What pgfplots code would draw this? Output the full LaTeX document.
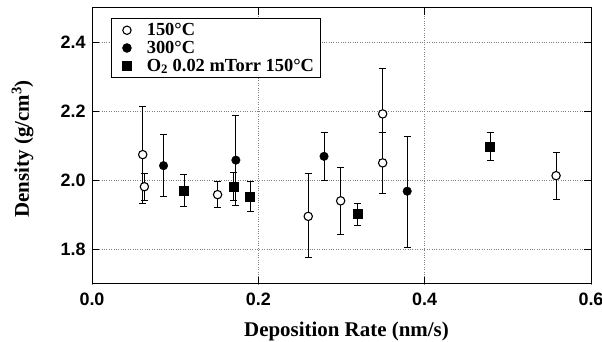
\documentclass[border=0pt]{standalone}
\usepackage{fontspec}
\setmainfont{Liberation Serif}
\newfontfamily\hv{Liberation Sans}
\usepackage{pgfplots}
\pgfplotsset{compat=1.18}
\begin{document}
\begin{tikzpicture}
\begin{axis}[
  scale only axis, width=499bp, height=276bp,
  xmin=0, xmax=0.6, ymin=1.7, ymax=2.5,
  xtick={0,0.2,0.4,0.6}, ytick={1.8,2.0,2.2,2.4},
  tick align=inside, major tick length=7bp,
  tick style={line width=0.8pt, black},
  axis line style={line width=1pt},
  grid=major, grid style={dotted, gray, line width=0.6pt},
  tick label style={font=\hv\bfseries\fontsize{18}{18}\selectfont},
  xticklabel style={yshift=-5bp},
  yticklabel style={xshift=-3bp},
  /pgf/number format/.cd, fixed, fixed zerofill, precision=1, assume math mode=true,
  /pgfplots/.cd,
  xlabel={\bfseries Deposition Rate (nm/s)},
  ylabel={\bfseries Density (g/cm\textsuperscript{3})},
  label style={font=\bfseries\fontsize{21}{21}\selectfont},
  xlabel style={at={(axis description cs:0.51,-0.192)}, anchor=base},
  ylabel style={at={(axis description cs:-0.139,0.49)}, anchor=center},
  legend style={at={(0.039,0.964)}, anchor=north west, draw=black, line width=0.9pt,
    font=\bfseries\fontsize{18.5}{20}\selectfont, row sep=0pt, inner xsep=4bp, inner ysep=3bp},
  legend cell align=left,
  legend image code/.code={%
    \path[draw=none, fill=none] (0,0) rectangle (1.02cm,0);
    \path[#1, only marks, draw=none] plot coordinates {(0.39cm,0cm)};},
  error bars/y dir=both, error bars/y explicit,
  error bars/error bar style={line width=0.8pt, black},
  error bars/error mark options={rotate=90, mark size=3.5pt, line width=0.8pt, black},
]
\addplot[only marks, mark=*, mark size=4.2pt, mark options={fill=white, draw=black, line width=1.1pt}]
  table[x=x, y=y, y error plus=ep, y error minus=em] {
x y ep em
0.061 2.075 0.141 0.141
0.063 1.982 0.040 0.040
0.151 1.959 0.038 0.038
0.260 1.896 0.124 0.119
0.299 1.941 0.096 0.096
0.3495 2.193 0.132 0.132
0.3495 2.051 0.089 0.089
0.558 2.014 0.068 0.068
};
\addlegendentry{150\textdegree C}
\addplot[only marks, mark=*, mark size=4.3pt, mark options={fill=black, draw=black}]
  table[x=x, y=y, y error plus=ep, y error minus=em] {
x y ep em
0.086 2.043 0.090 0.090
0.173 2.059 0.130 0.132
0.279 2.070 0.070 0.071
0.379 1.969 0.160 0.164
};
\addlegendentry{300\textdegree C}
\addplot[only marks, mark=square*, mark size=4.5pt, mark options={fill=black, draw=black}]
  table[x=x, y=y, y error plus=ep, y error minus=em] {
x y ep em
0.1106 1.970 0.049 0.046
0.170 1.983 0.040 0.040
0.190 1.952 0.045 0.043
0.319 1.903 0.032 0.033
0.4786 2.097 0.041 0.040
};
\addlegendentry{O\textsubscript{2} 0.02 mTorr 150\textdegree C}
\end{axis}
\pgfresetboundingbox
\path[use as bounding box] ([shift={(-92bp,-58bp)}]current axis.south west) rectangle ([shift={(11bp,8bp)}]current axis.north east);
\end{tikzpicture}
\end{document}
